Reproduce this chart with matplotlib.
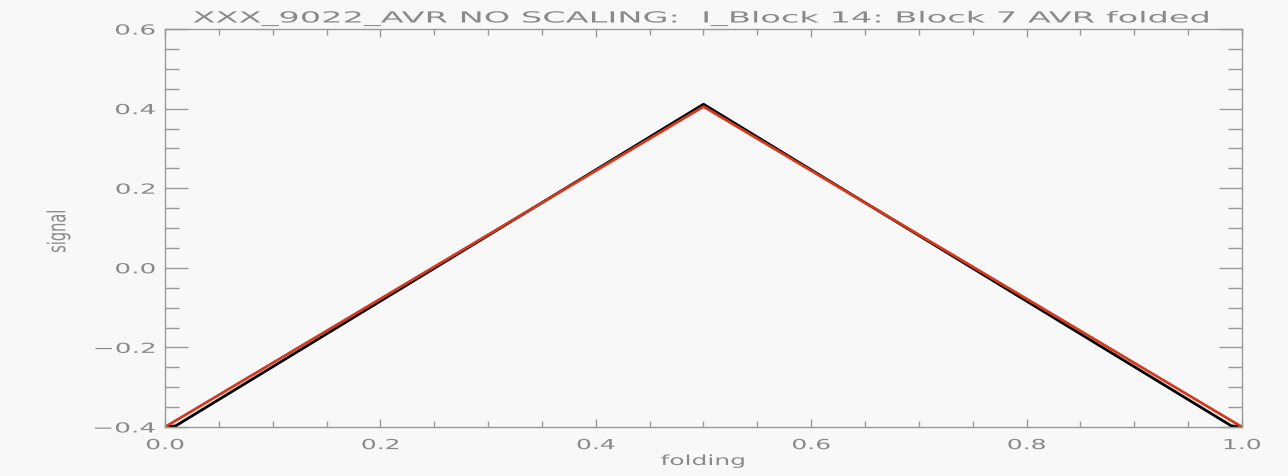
import matplotlib
matplotlib.use("Agg")
import matplotlib.pyplot as plt
from matplotlib.ticker import MultipleLocator, FuncFormatter
from matplotlib.patheffects import AbstractPathEffect
from matplotlib.transforms import Affine2D

title = "XXX_9022_AVR NO SCALING:  I_Block 14: Block 7 AVR folded"
xlabel = "folding"
ylabel = "signal"
x_black = [0.0, 0.01, 0.5, 0.99, 1.0]
y_black = [-0.40, -0.397, 0.411, -0.397, -0.40]
x_red = [0.0, 0.5, 1.0]
y_red = [-0.40, 0.405, -0.40]


class HStretch(AbstractPathEffect):
    """Draw text stretched horizontally (like the wide IDL/Hershey font)."""
    def __init__(self, sx, anchor="center"):
        super().__init__()
        self.sx = sx
        self.anchor = anchor

    def draw_path(self, renderer, gc, tpath, affine, rgbFace=None):
        bb = tpath.get_extents(affine)
        if self.anchor == "left":
            cx = bb.x0
        elif self.anchor == "right":
            cx = bb.x1
        else:
            cx = 0.5 * (bb.x0 + bb.x1)
        aff = affine + Affine2D().translate(-cx, 0).scale(self.sx, 1).translate(cx, 0)
        renderer.draw_path(gc, tpath, aff, rgbFace)


W, H = 1288, 477
bg = "#f8f8f8"
tc = "#8a8a8a"
sc = "#9a9a9a"
fig = plt.figure(figsize=(W / 100, H / 100), dpi=100, facecolor=bg)
L, R, T, B = 165, 1242, 30, 428
ax = fig.add_axes([L / W, 1 - B / H, (R - L) / W, (B - T) / H], facecolor=bg)
ax.plot(x_black, y_black, color="black", lw=2.0)
ax.plot(x_red, y_red, color="#d23a20", lw=2.0)
ax.set_xlim(0, 1)
ax.set_ylim(-0.4, 0.6)
ax.xaxis.set_major_locator(MultipleLocator(0.2))
ax.xaxis.set_minor_locator(MultipleLocator(0.05))
ax.yaxis.set_major_locator(MultipleLocator(0.2))
ax.yaxis.set_minor_locator(MultipleLocator(0.05))
ax.tick_params(which="both", direction="in", top=True, right=True, colors=sc,
               labelcolor=tc, labelsize=10, width=1.0)
ax.tick_params(axis="x", which="major", length=6, pad=8)
ax.tick_params(axis="x", which="minor", length=4)
ax.tick_params(axis="y", which="major", length=16.5, pad=7)
ax.tick_params(axis="y", which="minor", length=10)
ax.xaxis.set_major_formatter(FuncFormatter(lambda v, p: f"{v:.1f}"))
ax.yaxis.set_major_formatter(FuncFormatter(lambda v, p: f"{v:.1f}".replace("-", "\u2212")))
for s in ax.spines.values():
    s.set_color(sc)
    s.set_linewidth(1.0)

fig.text(701 / W, 1 - 23.5 / H, title, ha="center", va="baseline", color=tc,
         fontsize=11, path_effects=[HStretch(2.2)])
fig.text(703 / W, 1 - 466 / H, xlabel, ha="center", va="baseline", color=tc,
         fontsize=10, path_effects=[HStretch(1.8)])
fig.text(58 / W, 1 - 232 / H, ylabel, ha="center", va="center", rotation=90,
         color=tc, fontsize=10.5, path_effects=[HStretch(1.7)])

fig.canvas.draw()
for t in ax.xaxis.get_major_ticks():
    t.label1.set_path_effects([HStretch(1.8)])
for t in ax.yaxis.get_major_ticks():
    t.label1.set_path_effects([HStretch(1.9, anchor="right")])

fig.savefig("out.png", dpi=100, facecolor=bg)
